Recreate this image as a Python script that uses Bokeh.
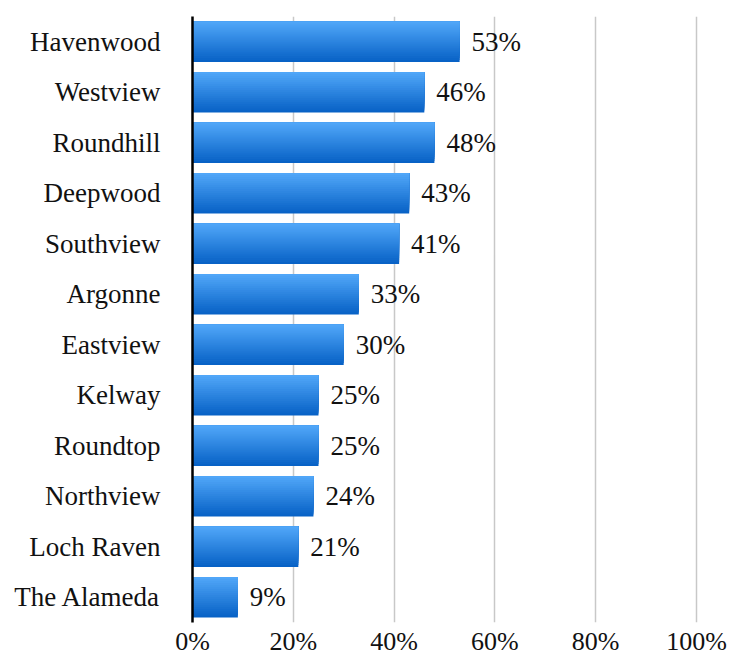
from bokeh.plotting import figure
from bokeh.models import Range1d, FactorRange, ColumnDataSource, FixedTicker
from bokeh.transform import dodge
from bokeh.core.properties import value
from bokeh.embed import file_html
from bokeh.resources import INLINE

categories = ["Havenwood", "Westview", "Roundhill", "Deepwood", "Southview", "Argonne",
              "Eastview", "Kelway", "Roundtop", "Northview", "Loch Raven", "The Alameda"]
values = [53, 46, 48, 43, 41, 33, 30, 25, 25, 24, 21, 9]
x_ticks = [0, 20, 40, 60, 80, 100]
x_tick_labels = ["0%", "20%", "40%", "60%", "80%", "100%"]

FONT = "'Liberation Serif', 'DejaVu Serif', serif"
top_rgb = (80, 166, 248)
bot_rgb = (8, 98, 198)

src = ColumnDataSource(dict(cat=categories, val=values, lab=[f"{v}%" for v in values]))

p = figure(width=729, height=658, output_backend="svg", toolbar_location=None,
           y_range=FactorRange(factors=categories[::-1], range_padding=0),
           x_range=Range1d(0, 101),
           min_border_left=192, min_border_right=28, min_border_top=16, min_border_bottom=0)
p.outline_line_color = None
p.background_fill_color = "white"

bar_h = 0.8
N = 20
sh = bar_h / N
for i in reversed(range(N)):
    t = i / (N - 1)
    c = tuple(int(round(top_rgb[k] + (bot_rgb[k] - top_rgb[k]) * t)) for k in range(3))
    col = "#%02x%02x%02x" % c
    d = sh * (i + 1)
    off = bar_h / 2 - d / 2
    p.hbar(y=dodge("cat", off, range=p.y_range), left=0, right="val", height=d,
           source=src, fill_color=col, line_color=None)

p.text(x="val", y="cat", text="lab", source=src, x_offset=12,
       text_font=value(FONT), text_font_size="27px", text_baseline="middle",
       text_align="left", text_color="#111111")

p.xgrid.ticker = FixedTicker(ticks=[20, 40, 60, 80, 100])
p.xgrid.grid_line_color = "#c8c8c8"
p.xgrid.grid_line_width = 1.5
p.ygrid.grid_line_color = None

p.xaxis.ticker = FixedTicker(ticks=x_ticks)
p.xaxis.major_label_overrides = {t: l for t, l in zip(x_ticks, x_tick_labels)}
p.xaxis.axis_line_color = None
p.xaxis.major_tick_line_color = None
p.xaxis.major_tick_out = 0
p.xaxis.minor_tick_out = 0
p.xaxis.minor_tick_line_color = None
p.xaxis.major_label_text_font = FONT
p.xaxis.major_label_text_font_size = "26px"
p.xaxis.major_label_text_color = "#111111"
p.xaxis.major_label_standoff = 4

p.yaxis.axis_line_color = "black"
p.yaxis.axis_line_width = 2.5
p.yaxis.major_tick_line_color = None
p.yaxis.major_tick_out = 0
p.yaxis.minor_tick_out = 0
p.yaxis.minor_tick_line_color = None
p.yaxis.major_label_text_font = FONT
p.yaxis.major_label_text_font_size = "27px"
p.yaxis.major_label_text_color = "#111111"
p.yaxis.major_label_standoff = 32

open("out.html", "w").write(file_html(p, INLINE))
